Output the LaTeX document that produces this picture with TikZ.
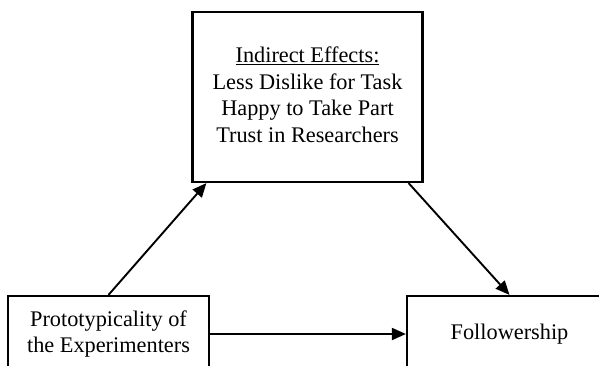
\documentclass[tikz,border=0pt]{standalone}
\usepackage{fontspec}
\setmainfont{Liberation Serif}
\usetikzlibrary{arrows.meta,calc}
\begin{document}
\begin{tikzpicture}[x=1pt,y=1pt,
        varbox/.style={draw,line width=2.2pt,align=center,inner sep=0pt,
            font=\fontsize{22.3}{26.5}\selectfont},
        effect/.style={line width=1.9pt,-{Triangle[length=14pt,width=12pt]}}]
        \useasboundingbox (0,0) rectangle (599,365);
        \clip (0,0) rectangle (599,365);
        \node[varbox,minimum width=230pt,minimum height=170pt] (ind) at (307.5,268)
            {\raisebox{-4pt}{\begin{tabular}{@{}c@{}}\underline{Indirect Effects:}\\Less Dislike for Task\\Happy to Take Part\\Trust in Researchers\end{tabular}}};
        \node[varbox,minimum width=201pt,minimum height=76pt] (proto) at (108.5,31)
            {Prototypicality of\\the Experimenters};
        \node[varbox,minimum width=205pt,minimum height=76pt] (follow) at (509.5,31)
            {\raisebox{-3pt}{Followership}};
        \coordinate (inleft) at ($(ind.south west)+(15,0)$);
        \coordinate (inright) at ($(ind.south east)+(-15,0)$);
        \draw[effect] (proto.north) -- (inleft);
        \draw[effect] (inright) -- (follow.north);
        \draw[effect] (proto.east) -- (follow.west);
    \end{tikzpicture}
\end{document}
